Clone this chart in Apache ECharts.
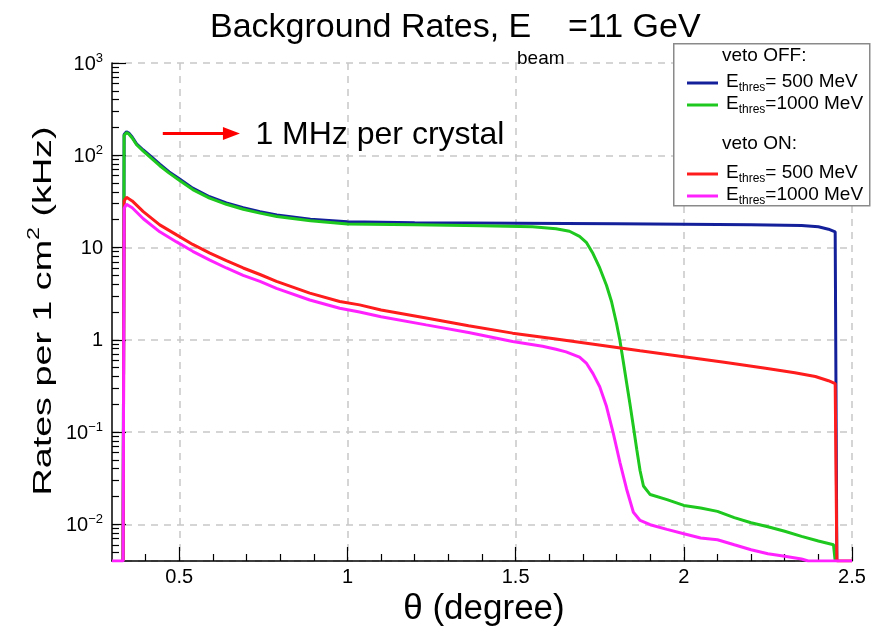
<!DOCTYPE html>
<html><head><meta charset="utf-8">
<script src="https://cdn.jsdelivr.net/npm/echarts@6/dist/echarts.min.js"></script>
<style>html,body{margin:0;padding:0;background:#fff}#c{width:876px;height:626px}</style>
</head><body><div id="c"></div>
<script>
// ---- data (theta in degree, rate in kHz per cm^2) ----
const thetaBlue = [0.333,0.336,0.343,0.35,0.36,0.373,0.393,0.42,0.442,0.47,0.50,0.54,0.59,0.64,0.69,0.74,0.79,0.89,1.0,1.2,1.5,1.8,2.0,2.2,2.35,2.40,2.43,2.45,2.455];
const rateBlue  = [0.004,168,180,174,158,133,114,94,80,66,55.5,44,35.5,30.5,27,24.5,22.5,20.3,19.0,18.5,18.3,18.1,17.9,17.7,17.3,16.8,15.8,14.8,0.004];

const thetaGreen = [0.333,0.336,0.343,0.35,0.36,0.373,0.393,0.42,0.442,0.47,0.50,0.54,0.59,0.64,0.69,0.74,0.79,0.89,1.0,1.2,1.4,1.55,1.62,1.66,1.69,1.71,1.73,1.75,1.77,1.785,1.80,1.81,1.82,1.83,1.84,1.85,1.86,1.87,1.88,1.90,1.95,2.0,2.05,2.1,2.15,2.2,2.25,2.3,2.35,2.40,2.445,2.45];
const rateGreen  = [0.004,164,176,170,154,130,111,91,77,64,53.5,42.5,34.3,29.4,26,23.6,21.7,19.5,18.0,17.6,17.2,16.8,16.0,15.0,13.2,11.4,8.6,6.0,3.9,2.6,1.5,0.98,0.58,0.34,0.2,0.115,0.065,0.038,0.026,0.021,0.0185,0.016,0.015,0.0138,0.0118,0.0104,0.0094,0.0084,0.0074,0.0066,0.006,0.004];

const thetaRed = [0.333,0.336,0.343,0.36,0.393,0.442,0.492,0.54,0.591,0.64,0.69,0.74,0.789,0.888,0.977,1.036,1.1,1.234,1.36,1.491,1.62,1.748,1.87,1.995,2.12,2.243,2.33,2.391,2.43,2.45,2.455,2.5];
const rateRed  = [0.004,32,35,32,24.5,17.6,13.7,10.8,8.7,7.2,6.0,5.1,4.3,3.2,2.6,2.39,2.1,1.72,1.42,1.18,1.02,0.88,0.76,0.66,0.57,0.49,0.44,0.40,0.36,0.335,0.004,0.004];

const thetaMagenta = [0.3,0.333,0.336,0.343,0.36,0.393,0.442,0.492,0.54,0.591,0.64,0.69,0.74,0.789,0.888,0.977,1.036,1.1,1.234,1.36,1.491,1.58,1.62,1.65,1.69,1.71,1.73,1.75,1.77,1.79,1.81,1.83,1.85,1.87,1.90,1.95,2.0,2.05,2.1,2.15,2.2,2.25,2.3,2.35,2.37,2.5];
const rateMagenta  = [0.004,0.004,26.5,29.5,27,20.5,14.8,11.5,9.1,7.3,6.0,5.0,4.3,3.6,2.7,2.2,2.0,1.78,1.45,1.2,0.96,0.85,0.79,0.74,0.65,0.56,0.43,0.31,0.19,0.098,0.047,0.024,0.0135,0.011,0.0099,0.0088,0.0079,0.0071,0.0068,0.006,0.0053,0.0048,0.0045,0.0042,0.004,0.004];

const seriesNames = ['OFF500','OFF1000','ON500','ON1000'];
const legendLabels = {OFF500:'= 500 MeV', OFF1000:'=1000 MeV', ON500:'= 500 MeV', ON1000:'=1000 MeV'};
const xMajorTicks = [0.5,1,1.5,2,2.5];
const xMinorTicks = [0.4,0.6,0.7,0.8,0.9,1.1,1.2,1.3,1.4,1.6,1.7,1.8,1.9,2.1,2.2,2.3,2.4];
const yMinorTicks = [0.005,0.006,0.007,0.008,0.009,0.02,0.03,0.04,0.05,0.06,0.07,0.08,0.09,0.2,0.3,0.4,0.5,0.6,0.7,0.8,0.9,2,3,4,5,6,7,8,9,20,30,40,50,60,70,80,90,200,300,400,500,600,700,800,900];
const annotationArrow = [[0.451,172],[0.655,172]];
const annotationText = '1 MHz per crystal';

const FONT = 'Liberation Sans, Arial, Helvetica, sans-serif';
const colors = ['#14209a','#1ec81e','#ff1c1c','#ff22ff'];
const pairs = (xs, ys) => xs.map((x,i)=>[x, ys[i]]);
const dataSets = [pairs(thetaBlue,rateBlue), pairs(thetaGreen,rateGreen), pairs(thetaRed,rateRed), pairs(thetaMagenta,rateMagenta)];

const chart = echarts.init(document.getElementById('c'), null, {renderer:'canvas'});
const gridLine = {show:true, lineStyle:{color:'#c8c8c8', type:[7,6], width:1.5}};
const series = dataSets.map((d,i)=>({
  name: seriesNames[i], type:'line', data:d, showSymbol:false, symbol:'none',
  xAxisIndex:0, yAxisIndex:0, clip:true,
  lineStyle:{color:colors[i], width:3}, itemStyle:{color:colors[i]}, z: 2+i,
  animation:false
}));
series[0].markLine = {
  silent:true, animation:false, symbol:['none','triangle'], symbolSize:[13,17],
  lineStyle:{color:'#ff0000', width:3, type:'solid'},
  label:{show:true, position:'end', formatter:annotationText, fontSize:32, fontFamily:FONT, color:'#000', distance:24, offset:[0,2]},
  data:[[{coord:annotationArrow[0]},{coord:annotationArrow[1]}]]
};

const legendRich = {
  a:{fontSize:19, fontFamily:FONT, color:'#000', lineHeight:22, verticalAlign:'top'},
  s:{fontSize:12, fontFamily:FONT, color:'#000', lineHeight:4, verticalAlign:'bottom'}
};
const legendBase = {
  orient:'vertical', icon:'rect', itemWidth:31, itemHeight:3, itemGap:0,
  formatter: n => '{a|E}{s|thres}{a|' + legendLabels[n] + '}',
  textStyle:{rich:legendRich, padding:[0,0,0,3]}, selectedMode:false, z:10
};
const titleStyle = (size) => ({fontSize:size, fontWeight:'normal', fontFamily:FONT, color:'#000'});

chart.setOption({
  animation:false,
  backgroundColor:'#fff',
  title:[
    {text:'Background Rates, E', left:205, top:6, textStyle:titleStyle(34)},
    {text:'beam', left:512, top:44, textStyle:titleStyle(19)},
    {text:'=11 GeV', left:563, top:6, textStyle:titleStyle(34)}
  ],
  grid:{left:112, right:24, top:63, bottom:65, containLabel:false, outerBoundsMode:'none'},
  xAxis:[{
    type:'value', min:0.3, max:2.5,
    name:'\u03b8 (degree)', nameLocation:'middle', nameGap:24,
    nameTextStyle:{fontSize:35, fontFamily:FONT, color:'#000', padding:[0,0,0,4]},
    axisLine:{show:true, onZero:false, lineStyle:{color:'#000', width:1.5}},
    axisTick:{show:true, inside:true, length:14, customValues:xMajorTicks, lineStyle:{color:'#000', width:1.2}},
    axisLabel:{customValues:xMajorTicks, fontSize:20, fontFamily:FONT, color:'#000', margin:6,
      formatter: v => String(v)},
    splitLine:gridLine
  },{
    type:'value', min:0.3, max:2.5, position:'bottom', offset:0,
    axisLine:{show:false, onZero:false},
    axisTick:{show:true, inside:true, length:7, customValues:xMinorTicks, lineStyle:{color:'#000', width:1.2}},
    axisLabel:{show:false}, splitLine:{show:false}
  }],
  yAxis:[{
    type:'log', logBase:10, min:0.004, max:1000,
    axisLine:{show:true, onZero:false, lineStyle:{color:'#000', width:1.5}},
    axisTick:{show:true, inside:true, length:14, lineStyle:{color:'#000', width:1.2}},
    axisLabel:{showMinLabel:false, margin:9,
      formatter: v => {
        const l = Math.log10(v), e = Math.round(l);
        if (Math.abs(l-e) > 1e-6) return '';
        if (e===0) return '{b|1}';
        if (e===1) return '{b|10}';
        return '{b|10}{sup|' + (e<0?'\u2212':'') + Math.abs(e) + '}';
      },
      rich:{
        b:{fontSize:20, fontFamily:FONT, color:'#000', lineHeight:22, verticalAlign:'bottom'},
        sup:{fontSize:13, fontFamily:FONT, color:'#000', lineHeight:10, verticalAlign:'top'}
      }},
    splitLine:gridLine
  },{
    type:'log', logBase:10, min:0.004, max:1000, position:'left', offset:0,
    axisLine:{show:false, onZero:false},
    axisTick:{show:true, inside:true, length:7, customValues:yMinorTicks, lineStyle:{color:'#000', width:1.2}},
    axisLabel:{show:false}, splitLine:{show:false}
  }],
  legend:[
    Object.assign({}, legendBase, {data:['OFF500','OFF1000'], left:682, top:67}),
    Object.assign({}, legendBase, {data:['ON500','ON1000'], left:682, top:158})
  ],
  graphic:[
    {type:'rect', left:673, top:43, z:5, shape:{width:196, height:162}, style:{fill:'#fff', stroke:'#8a8a8a', lineWidth:1.5}},
    {type:'text', left:722, top:46, z:20, style:{text:'veto OFF:', font:'19px ' + FONT, fill:'#000'}},
    {type:'text', left:722, top:134, z:20, style:{text:'veto ON:', font:'19px ' + FONT, fill:'#000'}},
    {type:'text', x:42, y:311, rotation:Math.PI/2, scaleX:1.45, scaleY:1, z:20,
      style:{text:'{a|Rates per 1 cm}{sup|2}{a| (kHz)}', align:'center', verticalAlign:'middle',
        rich:{
          a:{fontSize:26, fontFamily:FONT, fill:'#000', lineHeight:30, verticalAlign:'bottom'},
          sup:{fontSize:16, fontFamily:FONT, fill:'#000', lineHeight:12, verticalAlign:'top'}
        }}}
  ],
  series: series
});
</script></body></html>
